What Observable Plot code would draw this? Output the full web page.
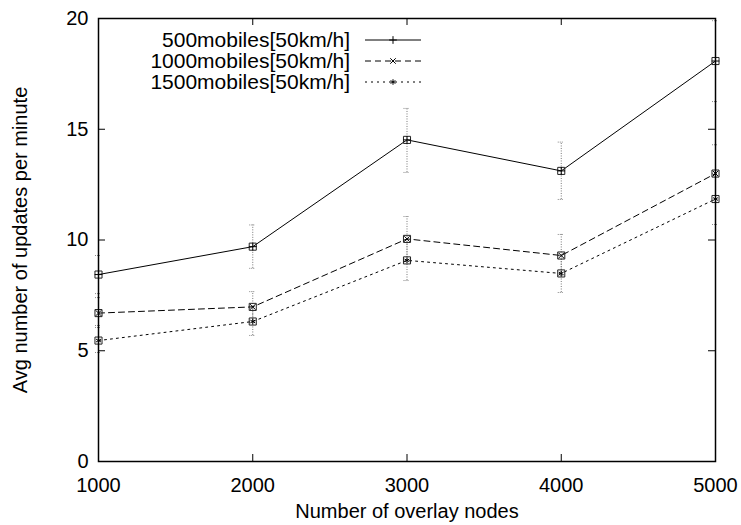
<!DOCTYPE html>
<html>
<head>
<meta charset="utf-8">
<script src="https://cdn.jsdelivr.net/npm/d3@7"></script>
<script src="https://cdn.jsdelivr.net/npm/@observablehq/plot@0.6"></script>
<style>
  html, body { margin: 0; padding: 0; background: #fff; }
  #chart { width: 741px; height: 525px; }
</style>
</head>
<body>
<div id="chart"></div>
<script>
// ---- data ----
const nodes = [1000, 2000, 3000, 4000, 5000];
const xTicks = [1000, 2000, 3000, 4000, 5000];
const yTicks = [0, 5, 10, 15, 20];

const seriesNames = ["500mobiles[50km/h]", "1000mobiles[50km/h]", "1500mobiles[50km/h]"];
const s500    = [8.44, 9.70, 14.52, 13.12, 18.08];
const s500Lo  = [7.58, 8.72, 13.05, 11.83, 16.25];
const s500Hi  = [9.30, 10.68, 15.94, 14.42, 19.90];
const s1000   = [6.70, 6.98, 10.05, 9.30, 13.00];
const s1000Lo = [6.05, 6.30, 9.10, 8.40, 11.70];
const s1000Hi = [7.40, 7.67, 11.06, 10.25, 14.30];
const s1500   = [5.46, 6.32, 9.08, 8.49, 11.85];
const s1500Lo = [4.92, 5.69, 8.17, 7.63, 10.70];
const s1500Hi = [6.14, 7.00, 10.00, 9.30, 13.00];

const seriesVals = [s500, s1000, s1500];
const seriesLo = [s500Lo, s1000Lo, s1500Lo];
const seriesHi = [s500Hi, s1000Hi, s1500Hi];
const dashes = [null, "6,4", "2,4"];
const symbols = ["plus", "times", "asterisk"];

const rows = [];
seriesNames.forEach((name, si) => {
  nodes.forEach((n, i) => rows.push({
    series: name, si, x: n, y: seriesVals[si][i], lo: seriesLo[si][i], hi: seriesHi[si][i]
  }));
});

// ---- layout ----
const W = 741, H = 525;
const mL = 98, mR = 26, mT = 18, mB = 64;
const pw = W - mL - mR, ph = H - mT - mB;
const tick = 7;
const font = "'Liberation Sans', Arial, Helvetica, sans-serif";
const fs = 20;
const xDom = [1000, 5000], yDom = [0, 20];

const marks = [];
// error bars
marks.push(Plot.ruleX(rows, {x: "x", y1: "lo", y2: "hi", stroke: "#777", strokeWidth: 1, strokeDasharray: "1,1.5"}));
marks.push(Plot.ruleY(rows, {y: "lo", x1: "x", x2: "x", insetLeft: -3, insetRight: -3, stroke: "#888", strokeWidth: 1, strokeDasharray: "1,1"}));
marks.push(Plot.ruleY(rows, {y: "hi", x1: "x", x2: "x", insetLeft: -3, insetRight: -3, stroke: "#888", strokeWidth: 1, strokeDasharray: "1,1"}));
// lines
seriesNames.forEach((name, si) => {
  const d = rows.filter(r => r.si === si);
  marks.push(Plot.line(d, {x: "x", y: "y", stroke: "#000", strokeWidth: 1, strokeDasharray: dashes[si]}));
});
// markers
marks.push(Plot.dot(rows, {x: "x", y: "y", symbol: "square", r: 4, fill: "none", stroke: "#222", strokeWidth: 1}));
seriesNames.forEach((name, si) => {
  const d = rows.filter(r => r.si === si);
  marks.push(Plot.dot(d, {x: "x", y: "y", symbol: symbols[si], r: 2.6, stroke: "#000", strokeWidth: 1}));
});
// frame
marks.push(Plot.frame({stroke: "#000", strokeWidth: 1.5}));
// inward ticks (all four sides); y1 = top value, y2 = bottom value
marks.push(Plot.ruleX(xTicks, {x: d => d, y1: () => yDom[1], y2: () => yDom[0], insetTop: ph - tick, stroke: "#000"}));
marks.push(Plot.ruleX(xTicks, {x: d => d, y1: () => yDom[1], y2: () => yDom[0], insetBottom: ph - tick, stroke: "#000"}));
marks.push(Plot.ruleY(yTicks, {y: d => d, x1: () => xDom[0], x2: () => xDom[1], insetRight: pw - tick, stroke: "#000"}));
marks.push(Plot.ruleY(yTicks, {y: d => d, x1: () => xDom[0], x2: () => xDom[1], insetLeft: pw - tick, stroke: "#000"}));
// axes labels
marks.push(Plot.axisX(xTicks, {tickSize: 0, tickPadding: 16, fontSize: fs, label: null, fill: "#000", tickFormat: d => String(d)}));
marks.push(Plot.axisY(yTicks, {tickSize: 0, tickPadding: 10, fontSize: fs, label: null, fill: "#000", tickFormat: d => String(d)}));
marks.push(Plot.text(["Number of overlay nodes"], {frameAnchor: "bottom", textAnchor: "middle", dy: 56, fontSize: fs, fill: "#000"}));
marks.push(Plot.text(["Avg number of updates per minute"], {frameAnchor: "left", textAnchor: "middle", dx: -78, rotate: -90, fontSize: fs, fill: "#000"}));

const chart = Plot.plot({
  width: W, height: H,
  marginLeft: mL, marginRight: mR, marginTop: mT, marginBottom: mB,
  x: {domain: xDom},
  y: {domain: yDom},
  style: {fontFamily: font, fontSize: fs + "px", background: "#fff", color: "#000"},
  marks
});

// legend (inside plot, top-left)
const svg = d3.select(chart);
const lg = svg.append("g").attr("font-family", font).attr("font-size", 21);
const textRight = 350, lineX1 = 365, lineX2 = 421, row0 = 40, rowGap = 21;
const symMap = {plus: d3.symbolPlus, times: d3.symbolTimes, asterisk: d3.symbolAsterisk};
seriesNames.forEach((name, si) => {
  const yy = row0 + si * rowGap;
  lg.append("text").attr("x", textRight).attr("y", yy).attr("dy", "0.35em")
    .attr("text-anchor", "end").attr("fill", "#000").text(name);
  lg.append("line").attr("x1", lineX1).attr("x2", lineX2).attr("y1", yy).attr("y2", yy)
    .attr("stroke", "#000").attr("stroke-width", 1)
    .attr("stroke-dasharray", dashes[si]);
  const sym = d3.symbol(symMap[symbols[si]], 2.6 * 2.6 * Math.PI);
  lg.append("path").attr("d", sym()).attr("transform", `translate(${(lineX1 + lineX2) / 2},${yy})`)
    .attr("fill", "none").attr("stroke", "#000").attr("stroke-width", 1);
});

document.getElementById("chart").appendChild(chart);
</script>
</body>
</html>
